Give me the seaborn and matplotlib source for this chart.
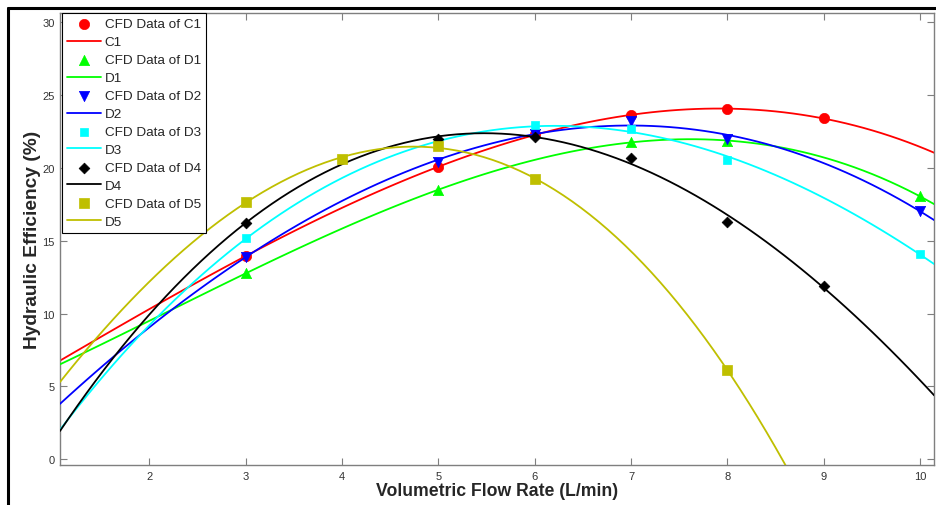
import numpy as np
import pandas as pd
import matplotlib
matplotlib.use("Agg")
import matplotlib.pyplot as plt
import seaborn as sns
from matplotlib.lines import Line2D

sns.set_style("white")
plt.rcParams['font.family'] = ['Liberation Sans', 'DejaVu Sans']

# ---- data ----
x_C1 = [3, 5, 6, 7, 8, 9]
y_C1 = [13.95, 20.05, 22.3, 23.63, 24.05, 23.39]
x_D1 = [3, 5, 7, 8, 10]
y_D1 = [12.76, 18.49, 21.78, 21.85, 18.04]
x_D2 = [3, 5, 6, 7, 8, 10]
y_D2 = [13.9, 20.42, 22.35, 23.22, 22.0, 17.05]
x_D3 = [3, 5, 6, 7, 8, 10]
y_D3 = [15.16, 21.65, 22.97, 22.7, 20.55, 14.08]
x_D4 = [3, 5, 6, 7, 8, 9]
y_D4 = [16.25, 22.0, 22.15, 20.69, 16.3, 11.91]
x_D5 = [3, 4, 5, 6, 8]
y_D5 = [17.63, 20.64, 21.5, 19.22, 6.12]

series = [
    ("C1", x_C1, y_C1, "#ff0000", "o", 55),
    ("D1", x_D1, y_D1, "#00ff00", "^", 55),
    ("D2", x_D2, y_D2, "#0000ff", "v", 55),
    ("D3", x_D3, y_D3, "#00ffff", "s", 30),
    ("D4", x_D4, y_D4, "#000000", "D", 30),
    ("D5", x_D5, y_D5, "#bfbf00", "s", 50),
]

fig = plt.figure(figsize=(9.36, 5.06), dpi=100)
ax = fig.add_axes([0.0641, 0.079, 0.934, 0.894])
ax.set_xlim(1.074, 10.145)
ax.set_ylim(-0.39, 30.65)

handles, labels = [], []
z = 2
for name, xs, ys, col, mk, s in series:
    df = pd.DataFrame({"x": xs, "y": ys})
    sns.scatterplot(data=df, x="x", y="y", ax=ax, color=col, marker=mk, s=s,
                    edgecolor=col, linewidth=0.5, zorder=z + 1, legend=False)
    handles.append(ax.collections[-1])
    labels.append(f"CFD Data of {name}")
    sns.regplot(data=df, x="x", y="y", ax=ax, order=3, ci=None, scatter=False,
                truncate=False, color=col, line_kws={"lw": 1.3, "zorder": z})
    handles.append(ax.lines[-1])
    labels.append(name)
    z += 2

ax.set_xlim(1.074, 10.145)
ax.set_ylim(-0.39, 30.65)
ax.set_xticks([2, 3, 4, 5, 6, 7, 8, 9, 10])
ax.set_yticks([0, 5, 10, 15, 20, 25, 30])
ax.tick_params(direction="in", length=5, width=0.8, color="#7f7f7f",
               labelsize=8, labelcolor="#333333", top=True, right=True,
               bottom=True, left=True, pad=4)
for sp in ax.spines.values():
    sp.set_color("#7f7f7f")
    sp.set_linewidth(1.0)
    sp.set_visible(True)

ax.set_xlabel("Volumetric Flow Rate (L/min)", fontsize=12.7, fontweight="bold",
              labelpad=1)
ax.set_ylabel("Hydraulic Efficiency (%)", fontsize=13.8, fontweight="bold")
ax.yaxis.set_label_coords(-0.022, 0.5)

leg = ax.legend(handles, labels, loc="upper left", bbox_to_anchor=(0.002, 1.0),
                borderaxespad=0, fontsize=9.7, frameon=True, fancybox=False,
                framealpha=1, edgecolor="#000000", handlelength=2.5,
                handletextpad=0.3, labelspacing=0.41, borderpad=0.4)
leg.get_frame().set_linewidth(0.8)
leg.set_zorder(20)

# outer figure frame
fig.add_artist(Line2D([8 / 936, 8 / 936], [0, 1 - 9 / 506], color="black",
                      lw=2.2, transform=fig.transFigure))
fig.add_artist(Line2D([8 / 936, 1], [1 - 9 / 506, 1 - 9 / 506], color="black",
                      lw=2.2, transform=fig.transFigure))

fig.savefig("out.png", dpi=100)
